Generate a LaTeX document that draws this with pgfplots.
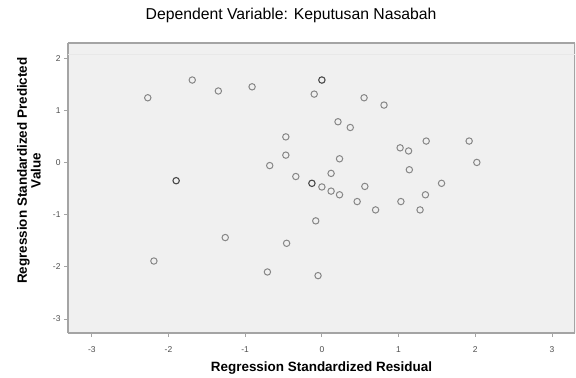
\documentclass[border=0pt]{standalone}
\usepackage{pgfplots}
\pgfplotsset{compat=1.18}
\usepackage{fontspec}
\setmainfont{Liberation Sans}
\definecolor{bgc}{HTML}{F0F0F0}
\definecolor{framec}{HTML}{A4A4A4}
\definecolor{markc}{HTML}{878787}
\definecolor{markd}{HTML}{4A4A4A}
\begin{document}
\begin{tikzpicture}
\useasboundingbox (-68bp,-45bp) rectangle (508bp,333bp);
\begin{axis}[
  at={(0,0)}, anchor=south west,
  width=507bp, height=290bp, scale only axis,
  xmin=-3.31, xmax=3.30, ymin=-3.27, ymax=2.29,
  axis background/.style={fill=bgc},
  axis line style={framec, line width=1.4bp},
  axis x line*=bottom, axis y line*=left,
  xtick={-3,-2,-1,0,1,2,3}, ytick={-3,-2,-1,0,1,2},
  tick align=outside, major tick length=4bp,
  tick style={framec, line width=0.8bp},
  /pgf/number format/assume math mode=true,
  ticklabel style={font=\fontsize{8.5}{9}\selectfont, text=black!70},
  xticklabel style={yshift=-6bp},
  xlabel={Regression Standardized Residual},
  xlabel style={at={(axis description cs:0.5,-0.121)}, anchor=center, font=\bfseries\fontsize{13.5}{15}\selectfont},
  ylabel={Regression Standardized Predicted\\Value},
  ylabel style={at={(axis description cs:-0.077,0.56)}, anchor=center, rotate=0, align=center, font=\bfseries\fontsize{13.5}{14}\selectfont},
  title={Dependent Variable: Keputusan Nasabah},
  title style={at={(axis description cs:0.44,1.076)}, anchor=center, font=\fontsize{15.8}{17}\selectfont},
]
\draw[framec, line width=1.4bp] (rel axis cs:0,1) -- (rel axis cs:1,1);
\draw[framec, line width=1.4bp] (rel axis cs:1,0) -- (rel axis cs:1,1);
\draw[white!91!black, line width=0.8bp] (rel axis cs:0,0.96) -- (rel axis cs:1,0.96);
\addplot[only marks, mark=o, mark size=3.2bp, mark options={draw=markc, line width=1.0bp}] coordinates {
(-2.27,1.24) (-1.69,1.58) (-1.35,1.37) (-0.91,1.45) (-0.10,1.31)
(-0.47,0.49) (-0.47,0.14) (-0.68,-0.06) (-0.34,-0.27)
(0.55,1.24) (0.81,1.10) (0.21,0.78) (0.37,0.67) (1.36,0.41)
(1.02,0.28) (1.13,0.22) (1.92,0.41) (2.02,0.0) (0.23,0.07)
(0.12,-0.21) (1.14,-0.14) (1.56,-0.40) (0.56,-0.46) (0.0,-0.47)
(0.12,-0.55) (0.23,-0.62) (0.46,-0.75) (0.70,-0.91) (1.35,-0.62)
(1.03,-0.75) (1.28,-0.91) (-0.08,-1.12) (-0.46,-1.55) (-1.26,-1.44)
(-2.19,-1.89) (-0.71,-2.10) (-0.05,-2.17)
};
\addplot[only marks, mark=o, mark size=3.2bp, mark options={draw=markd, line width=1.1bp}] coordinates {
(0.0,1.58) (-0.13,-0.40) (-1.90,-0.35)
};
\end{axis}
\end{tikzpicture}
\end{document}
